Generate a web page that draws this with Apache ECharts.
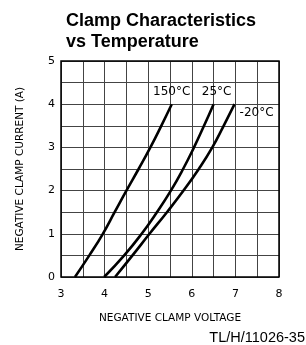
<!DOCTYPE html>
<html>
<head>
<meta charset="utf-8">
<script src="https://cdn.jsdelivr.net/npm/echarts@6/dist/echarts.min.js"></script>
<style>
  html, body { margin: 0; padding: 0; background: #fff; }
  #chart { width: 306px; height: 345px; }
</style>
</head>
<body>
<div id="chart"></div>
<script>
// clamp current (A) read at these levels
const currentLevels = [0, 0.5, 1, 1.5, 2, 2.5, 3, 3.5, 4];
// voltage at each current level, per temperature
const volts150 = [3.32, 3.65, 3.96, 4.23, 4.5, 4.78, 5.05, 5.3, 5.54];
const volts25 = [3.99, 4.45, 4.85, 5.2, 5.52, 5.8, 6.05, 6.28, 6.5];
const voltsMinus20 = [4.24, 4.64, 5.03, 5.43, 5.81, 6.16, 6.47, 6.73, 6.98];
const seriesNames = ['150°C', '25°C', '-20°C'];
const xTicks = [3, 4, 5, 6, 7, 8];
const yTicks = [0, 1, 2, 3, 4, 5];

const techFont = 'DejaVu Sans';

const myChart = echarts.init(document.getElementById('chart'));

// label placement for the end of each curve
const endLabels = [
  { position: 'top', offset: [0, -1] },
  { position: 'top', offset: [3, -1] },
  { position: 'right', offset: [0, 9] }
];

function makeSeries(volts, idx) {
  const data = volts.map((v, i) => {
    const point = { value: [v, currentLevels[i]] };
    if (i === volts.length - 1) {
      point.label = {
        show: true,
        formatter: seriesNames[idx],
        color: '#000',
        fontFamily: techFont,
        fontSize: 12,
        position: endLabels[idx].position,
        offset: endLabels[idx].offset
      };
    }
    return point;
  });
  return {
    name: seriesNames[idx],
    type: 'line',
    data: data,
    smooth: 0.5,
    symbol: 'circle',
    symbolSize: 0.1,
    showAllSymbol: true,
    itemStyle: { color: '#000' },
    lineStyle: { color: '#000', width: 2.6 },
    z: 5
  };
}

const option = {
  animation: false,
  title: {
    text: 'Clamp Characteristics\nvs Temperature',
    left: 61,
    top: 6,
    textStyle: {
      fontFamily: 'Liberation Sans',
      fontWeight: 'bold',
      fontSize: 18,
      lineHeight: 21,
      color: '#000'
    }
  },
  grid: { left: 61, right: 27, top: 61, bottom: 68 },
  xAxis: {
    type: 'value',
    min: 3,
    max: 8,
    interval: 0.5,
    name: 'NEGATIVE CLAMP VOLTAGE',
    nameLocation: 'middle',
    nameGap: 36,
    nameTextStyle: { fontFamily: techFont, fontSize: 10.5, color: '#000' },
    axisLine: { show: false },
    axisTick: { show: false },
    axisLabel: {
      margin: 12,
      fontFamily: techFont,
      fontSize: 11,
      color: '#000',
      formatter: v => (xTicks.includes(v) ? String(v) : '')
    },
    splitLine: { show: true, lineStyle: { color: '#444', width: 1 } }
  },
  yAxis: {
    type: 'value',
    min: 0,
    max: 5,
    interval: 0.5,
    name: 'NEGATIVE CLAMP CURRENT (A)',
    nameLocation: 'middle',
    nameRotate: 90,
    nameGap: 35,
    nameTextStyle: { fontFamily: techFont, fontSize: 10.5, color: '#000' },
    axisLine: { show: false },
    axisTick: { show: false },
    axisLabel: {
      margin: 6,
      fontFamily: techFont,
      fontSize: 11,
      color: '#000',
      formatter: v => (yTicks.includes(v) ? String(v) : '')
    },
    splitLine: { show: true, lineStyle: { color: '#444', width: 1 } }
  },
  graphic: [
    {
      type: 'text',
      right: 1,
      top: 330,
      style: {
        text: 'TL/H/11026-35',
        font: '14.5px "Liberation Sans"',
        fill: '#000'
      }
    }
  ],
  series: [
    makeSeries(volts150, 0),
    makeSeries(volts25, 1),
    makeSeries(voltsMinus20, 2),
    {
      // outer frame of the plot area
      type: 'line',
      data: [],
      markArea: {
        silent: true,
        itemStyle: { color: 'transparent', borderColor: '#000', borderWidth: 1.5 },
        data: [[{ coord: [3, 0] }, { coord: [8, 5] }]]
      }
    }
  ]
};

myChart.setOption(option);
</script>
</body>
</html>
